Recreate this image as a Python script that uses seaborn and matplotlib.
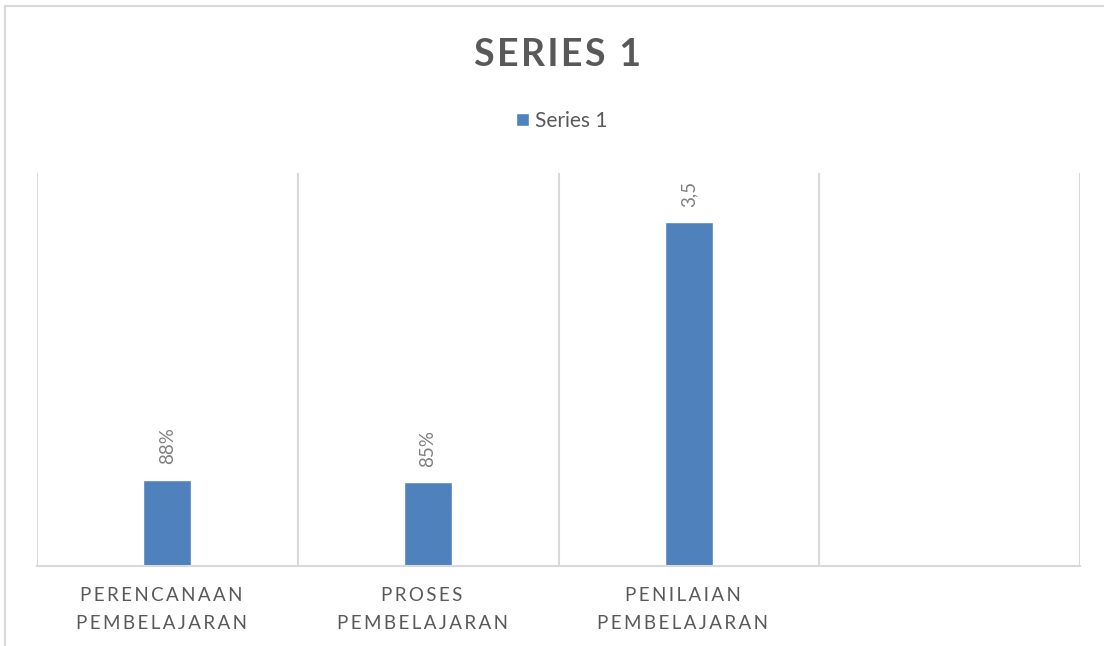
import numpy as np
import pandas as pd
import matplotlib.pyplot as plt
import matplotlib.transforms as mtransforms
import seaborn as sns
from matplotlib.lines import Line2D
from matplotlib.patches import Patch

sns.set_theme(style='white')
plt.rcParams['font.family'] = ['Lato', 'DejaVu Sans']

# dados do grafico
categorias = ["PERENCANAAN\nPEMBELAJARAN", "PROSES\nPEMBELAJARAN", "PENILAIAN\nPEMBELAJARAN"]
valores = [0.88, 0.85, 3.5]
rotulos = ["88%", "85%", "3,5"]
n_slots = 4  # a quarta categoria fica vazia
titulo = "SERIES 1"
serie = "Series 1"

cor_barra = '#4F81BD'
cinza = '#595959'
grade = '#D9D9D9'


def espacar(txt, sep=' '):
    # imita o espacamento entre letras do Excel
    return '\n'.join(sep.join(list(linha)) for linha in txt.split('\n'))


df = pd.DataFrame({'categoria': categorias, 'valor': valores})

fig = plt.figure(figsize=(11.04, 6.46), dpi=100)
ax = fig.add_axes([37 / 1104, 80 / 646, (1080 - 37) / 1104, (566 - 173) / 646])

sns.barplot(data=df, x='categoria', y='valor', color=cor_barra, width=0.184,
            saturation=1, ax=ax)

ax.set_xlim(-0.5, n_slots - 0.5)
ax.set_ylim(0, 4)

# linhas verticais separando as categorias
for x in np.arange(-0.5, n_slots, 1.0):
    ax.axvline(x, color=grade, lw=1.5, zorder=0)

ax.bar_label(ax.containers[0], labels=rotulos, padding=11, rotation=90,
             color='#7F7F7F', fontsize=13.5)

ax.set_xticks(range(len(categorias)))
ax.set_xticklabels([espacar(c, '\u2009') for c in categorias], color=cinza,
                   fontsize=13.5, linespacing=1.8)
ax.tick_params(axis='x', length=0, pad=15)
desloc = mtransforms.ScaledTranslation(-6 / 100, 0, fig.dpi_scale_trans)
for lbl in ax.get_xticklabels():
    lbl.set_transform(lbl.get_transform() + desloc)
ax.set_yticks([])
ax.set_xlabel('')
ax.set_ylabel('')
for lado in ['top', 'left', 'right']:
    ax.spines[lado].set_visible(False)
ax.spines['bottom'].set_color(grade)
ax.spines['bottom'].set_linewidth(1.5)

fig.text(0.505, 1 - 55 / 646, titulo.replace('', '\u200a').strip('\u200a'),
         ha='center', va='center', fontsize=27, fontweight='bold', color=cinza)

fig.legend(handles=[Patch(facecolor=cor_barra, label=serie)], loc='center',
           bbox_to_anchor=(0.509, 1 - 121 / 646), frameon=False, fontsize=15,
           handlelength=0.63, handleheight=0.63, handletextpad=0.3,
           labelcolor=cinza)

# borda do grafico
fig.add_artist(Line2D([5 / 1104, 1], [1 - 6 / 646] * 2, color=grade, lw=1.5))
fig.add_artist(Line2D([5 / 1104] * 2, [0, 1 - 6 / 646], color=grade, lw=1.5))

fig.savefig('out.png', dpi=100)
